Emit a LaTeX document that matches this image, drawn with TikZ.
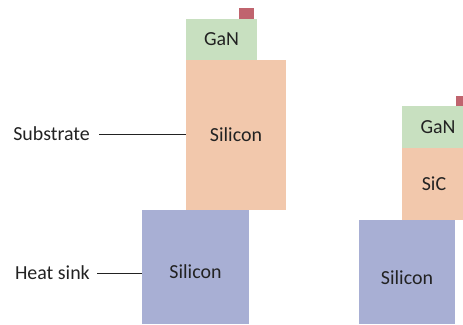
\documentclass[tikz,border=0pt]{standalone}
\usepackage{fontspec}
\setmainfont{Carlito}
\definecolor{ganc}{HTML}{C8E0C0}
\definecolor{subc}{HTML}{F2C8AC}
\definecolor{sinkc}{HTML}{A8AFD4}
\definecolor{contc}{HTML}{C0646E}
\definecolor{txtc}{HTML}{222222}
\begin{document}
\begin{tikzpicture}[x=1bp,y=-1bp,
  layer/.style={rectangle, inner sep=0pt, outer sep=0pt, anchor=north west, text=txtc, font=\fontsize{20}{22}\selectfont},
  lbl/.style={inner sep=0pt, text=txtc, font=\fontsize{20}{22}\selectfont},
  leader/.style={draw=txtc, line width=0.9bp}]
\useasboundingbox (0,0) rectangle (463,324);
\clip (0,0) rectangle (463,324);
% left stack
\node[layer, fill=sinkc, minimum width=107bp, minimum height=114bp] (hs) at (142,210) {};
\node[lbl] (hst) at (195.5,272) {Silicon};
\node[layer, fill=subc, minimum width=100bp, minimum height=150bp] (sub) at (186,60) {Silicon};
\node[layer, fill=ganc, minimum width=71bp, minimum height=41bp] (gan) at (186,19) {GaN};
\node[layer, fill=contc, minimum width=15bp, minimum height=11bp] (ct) at (239,8) {};
% right stack
\node[layer, fill=sinkc, minimum width=96bp, minimum height=104bp] (hs2) at (359,220) {};
\node[lbl] (hs2t) at (407,278) {Silicon};
\node[layer, fill=subc, minimum width=64bp, minimum height=72bp] (sic) at (402,148) {SiC};
\node[layer, fill=ganc, minimum width=72bp, minimum height=42bp] (gan2) at (402,106) {GaN};
\node[layer, fill=contc, minimum width=15bp, minimum height=10bp] (ct2) at (456,96) {};
% labels
\node[lbl, anchor=east] (sublbl) at (90,134) {Substrate};
\node[lbl, anchor=east] (hslbl) at (90,273) {Heat sink};
\draw[leader] ([xshift=9bp]sublbl.east) -- (sublbl.east -| sub.west);
\draw[leader] ([xshift=7bp]hslbl.east) -- (hslbl.east -| hs.west);
\end{tikzpicture}
\end{document}
